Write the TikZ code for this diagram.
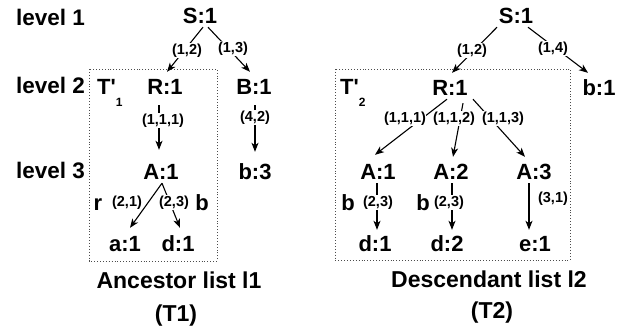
\documentclass[tikz,border=0pt]{standalone}
\usepackage{fontspec}
\setmainfont{Liberation Sans}
\newfontfamily\plainfont{Liberation Sans}
\usetikzlibrary{arrows.meta}
\begin{document}
\begin{tikzpicture}[x=1pt,y=-1pt,
  nd/.style={font=\fontsize{22}{26}\selectfont\bfseries, inner sep=4pt, text height=16pt, text depth=0pt},
  lvl/.style={font=\fontsize{22.5}{26}\selectfont\bfseries, inner sep=0pt, anchor=west, text height=16pt, text depth=0pt},
  ttl/.style={font=\fontsize{23}{27}\selectfont\bfseries, inner sep=0pt, text height=16pt, text depth=4pt},
  lbl/.style={font=\fontsize{14.5}{18}\selectfont\bfseries, inner sep=0.5pt, fill=white, text height=11pt, text depth=3pt},
  nlbl/.style={font=\fontsize{14.5}{18}\selectfont\bfseries, inner sep=0.5pt, text height=11pt, text depth=3pt},
  sym/.style={font=\fontsize{22}{26}\selectfont\bfseries, inner sep=0pt, text height=16pt, text depth=0pt},
  arr/.style={line width=1.1pt, -{Stealth[length=9pt,width=7pt,inset=2.5pt]}},
  box/.style={draw=black!70, dotted, line width=0.9pt}]
\useasboundingbox (0,0) rectangle (634,335);

% level labels
\node[lvl] (lv1) at (16,17) {level 1};
\node[lvl] (lv2) at (16,85) {level 2};
\node[lvl] (lv3) at (16,170) {level 3};

% ---------------- left tree ----------------
\draw[box] (89,69) rectangle (217,261);
\node[sym, anchor=west] (tp1) at (97,86) {\plainfont\bfseries T'\raisebox{-12pt}{\fontsize{12}{14}\selectfont 1}};

\node[nd] (LS) at (200,15) {S:1};
\node[nd] (LR) at (165,86) {R:1};
\node[nd] (LB) at (254,86) {B:1};
\node[nd] (LA) at (161,171) {A:1};
\node[nd] (Lb) at (255,171) {b:3};
\node[nd] (La) at (125,243) {a:1};
\node[nd] (Ld) at (178,243) {d:1};

\draw[arr] ([xshift=3pt]LS.south) -- ([xshift=2pt,yshift=2pt]LR.north);
\draw[arr] ([xshift=8pt]LS.south) -- ([xshift=-4pt,yshift=2pt]LB.north);
\draw[arr] ([xshift=-6pt,yshift=-7pt]LR.south) -- ([xshift=-2pt,yshift=9pt]LA.north);
\draw[arr] ([xshift=1pt,yshift=-7pt]LB.south) -- ([yshift=7pt]Lb.north);
\draw[arr] ([xshift=1pt]LA.south) -- ([xshift=5pt,yshift=3pt]La.north);
\draw[arr] ([xshift=1pt]LA.south) -- ([xshift=2pt,yshift=3pt]Ld.north);

\node[lbl] (l12) at (187,50) {(1,2)};
\node[lbl] (l13) at (233,48) {(1,3)};
\node[lbl] (l111) at (163,120) {(1,1,1)};
\node[lbl] (l42) at (255,117) {(4,2)};
\node[nlbl] (l21) at (127,202) {(2,1)};
\node[lbl] (l23) at (174,202) {(2,3)};
\node[sym] (lr) at (98,202) {r};
\node[sym] (lbb) at (202,202) {b};

\node[ttl] (t1a) at (179,282) {Ancestor list l1};
\node[ttl] (t1b) at (176,315) {(T1)};

% ---------------- right tree ----------------
\draw[box] (335,69) rectangle (570,260);
\node[sym, anchor=west] (tp2) at (340,86) {\plainfont\bfseries T'\raisebox{-12pt}{\fontsize{12}{14}\selectfont 2}};

\node[nd] (RS) at (516,15) {S:1};
\node[nd] (RR) at (450,87) {R:1};
\node[nd] (Rb) at (599,87) {b:1};
\node[nd] (RA1) at (378,171) {A:1};
\node[nd] (RA2) at (451,171) {A:2};
\node[nd] (RA3) at (534,171) {A:3};
\node[nd] (Rd1) at (375,243) {d:1};
\node[nd] (Rd2) at (447,243) {d:2};
\node[nd] (Re1) at (535,243) {e:1};

\draw[arr] ([xshift=-19pt]RS.south) -- ([xshift=2pt,yshift=2pt]RR.north);
\draw[arr] ([xshift=12pt]RS.south) -- ([xshift=-11pt,yshift=2pt]Rb.north);
\draw[arr] ([xshift=-3pt]RR.south) -- ([xshift=-3pt,yshift=4pt]RA1.north);
\draw[arr] ([xshift=13pt,yshift=-4pt]RR.south) -- ([xshift=2pt,yshift=2pt]RA2.north);
\draw[arr] ([xshift=23pt]RR.south) -- ([xshift=-9pt,yshift=2pt]RA3.north);
\draw[arr] ([xshift=-1pt]RA1.south) -- ([xshift=2pt,yshift=1pt]Rd1.north);
\draw[arr] ([xshift=1pt]RA2.south) -- ([xshift=5pt,yshift=1pt]Rd2.north);
\draw[arr] ([xshift=-5pt]RA3.south) -- ([xshift=-6pt,yshift=1pt]Re1.north);

\node[lbl] (r12) at (472,50) {(1,2)};
\node[lbl] (r14) at (553,48) {(1,4)};
\node[lbl] (r111) at (405,118) {(1,1,1)};
\node[lbl] (r112) at (454,118) {(1,1,2)};
\node[lbl] (r113) at (503,118) {(1,1,3)};
\node[lbl] (r23a) at (378,202) {(2,3)};
\node[lbl] (r23b) at (449,202) {(2,3)};
\node[nlbl] (r31) at (553,198) {(3,1)};
\node[sym] (rb1) at (348,202) {b};
\node[sym] (rb2) at (423,202) {b};

\node[ttl] (t2a) at (489,281) {Descendant list l2};
\node[ttl] (t2b) at (492,312) {(T2)};
\end{tikzpicture}
\end{document}
